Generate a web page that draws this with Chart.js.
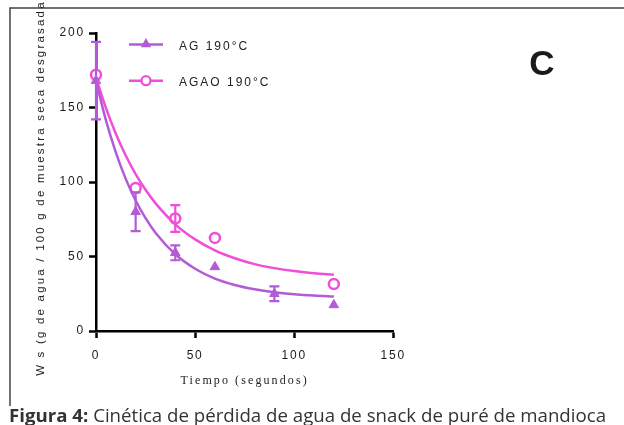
<!DOCTYPE html>
<html>
<head>
<meta charset="utf-8">
<script src="https://cdn.jsdelivr.net/npm/chart.js@4/dist/chart.umd.min.js"></script>
<style>
  html, body { margin: 0; padding: 0; background: #fff; }
</style>
</head>
<body>
<canvas id="graficoCinetica" width="624" height="425"></canvas>
<script>
// datos
const tiempoAG = [0, 20, 40, 60, 90, 120];
const wsAG = [168, 80, 52.5, 43, 25, 17.5];
const errAG = [26, 13, 5, 0, 5, 0];

const tiempoAGAO = [0, 20, 40, 60, 120];
const wsAGAO = [172, 96, 75.5, 62.5, 31.5];
const errAGAO = [0, 0, 9, 0, 0];

// curvas de ajuste
const tiempoAjuste = [0, 5, 10, 15, 20, 25, 30, 40, 50, 60, 70, 80, 90, 100, 110, 120];
const ajusteAG = [168, 141.5, 119.9, 102.1, 87.6, 75.7, 66, 51.5, 41.8, 35.2, 30.9, 28, 26, 24.7, 23.8, 23.2];
const ajusteAGAO = [170, 149.7, 132.4, 117.8, 105.3, 94.8, 85.8, 71.6, 61.5, 54.1, 48.8, 44.9, 42.2, 40.2, 38.7, 37.7];

const ticksX = [0, 50, 100, 150];
const ticksY = [0, 50, 100, 150, 200];

const nombres = ["AG 190°C", "AGAO 190°C"];
const morado = "#B35BD6";
const rosa = "#F04ED9";

const puntos = (xs, ys) => xs.map((x, i) => ({ x: x, y: ys[i] }));

function triangulo(ctx, x, y, r, color) {
  ctx.beginPath();
  ctx.moveTo(x, y - r);
  ctx.lineTo(x + r * 0.95, y + r * 0.7);
  ctx.lineTo(x - r * 0.95, y + r * 0.7);
  ctx.closePath();
  ctx.fillStyle = color;
  ctx.fill();
}

const extras = {
  id: 'extras',
  beforeUpdate(chart) { chart.ctx.letterSpacing = '1.8px'; },
  beforeDraw(chart) { chart.ctx.letterSpacing = '1.8px'; },
  afterDatasetsDraw(chart) {
    const ctx = chart.ctx;
    const y = chart.scales.y;
    const barras = [[2, errAG, morado], [3, errAGAO, rosa]];
    ctx.save();
    barras.forEach(([idx, errs, color]) => {
      const meta = chart.getDatasetMeta(idx);
      meta.data.forEach((p, i) => {
        if (!errs[i]) return;
        const v = chart.data.datasets[idx].data[i].y;
        const y1 = y.getPixelForValue(v + errs[i]);
        const y2 = y.getPixelForValue(v - errs[i]);
        ctx.strokeStyle = color;
        ctx.lineWidth = 2.2;
        ctx.beginPath();
        ctx.moveTo(p.x, y1); ctx.lineTo(p.x, y2);
        ctx.moveTo(p.x - 5, y1); ctx.lineTo(p.x + 5, y1);
        ctx.moveTo(p.x - 5, y2); ctx.lineTo(p.x + 5, y2);
        ctx.stroke();
      });
    });
    ctx.restore();
  },
  afterDraw(chart) {
    const ctx = chart.ctx;
    const area = chart.chartArea;
    ctx.save();

    // marco
    ctx.strokeStyle = '#444';
    ctx.lineWidth = 1.5;
    ctx.beginPath();
    ctx.moveTo(10, 406); ctx.lineTo(10, 8); ctx.lineTo(624, 8);
    ctx.stroke();

    // leyenda
    const filas = [[44.5, morado, 'tri'], [80.7, rosa, 'circ']];
    filas.forEach(([ly, color, tipo], i) => {
      ctx.strokeStyle = color;
      ctx.lineWidth = 2.5;
      ctx.beginPath();
      ctx.moveTo(129, ly); ctx.lineTo(163, ly);
      ctx.stroke();
      if (tipo === 'tri') {
        triangulo(ctx, 146, ly - 1, 5.5, color);
      } else {
        ctx.beginPath();
        ctx.arc(146, ly, 4.5, 0, Math.PI * 2);
        ctx.fillStyle = '#fff';
        ctx.fill();
        ctx.lineWidth = 2.3;
        ctx.stroke();
      }
      ctx.letterSpacing = '2px';
      ctx.fillStyle = '#222';
      ctx.font = '12px "Liberation Sans", Arial, sans-serif';
      ctx.textAlign = 'left';
      ctx.textBaseline = 'middle';
      ctx.fillText(nombres[i], 179, ly + 2);
    });

    // letra C
    ctx.letterSpacing = '0px';
    ctx.font = 'bold 35px "Liberation Sans", Arial, sans-serif';
    ctx.textAlign = 'center';
    ctx.textBaseline = 'middle';
    ctx.fillStyle = '#1a1a1a';
    ctx.fillText('C', 542, 65);

    // titulo eje y
    ctx.save();
    ctx.translate(41, 185);
    ctx.rotate(-Math.PI / 2);
    ctx.letterSpacing = '2.2px';
    ctx.font = '11.5px "Liberation Sans", Arial, sans-serif';
    ctx.fillStyle = '#222';
    ctx.textAlign = 'center';
    ctx.textBaseline = 'middle';
    ctx.fillText('W s (g de agua / 100 g de muestra seca desgrasada)', 0, 0);
    ctx.restore();

    // titulo eje x
    ctx.letterSpacing = '2.1px';
    ctx.font = '12px "Liberation Serif", "Times New Roman", serif';
    ctx.fillStyle = '#222';
    ctx.textAlign = 'center';
    ctx.textBaseline = 'middle';
    ctx.fillText('Tiempo (segundos)', (area.left + area.right) / 2, 381);

    // pie de figura (ajustado al ancho, letra estrecha)
    ctx.letterSpacing = '0px';
    const parte1 = 'Figura 4:';
    const parte2 = ' Cinética de pérdida de agua de snack de puré de mandioca';
    const fam = '"Open Sans", "Noto Sans", sans-serif';
    const tam = 17.5;
    ctx.font = 'bold ' + tam + 'px ' + fam;
    const w1 = ctx.measureText(parte1).width;
    ctx.font = tam + 'px ' + fam;
    const w2 = ctx.measureText(parte2).width;
    const sx = 597 / (w1 + w2);
    ctx.save();
    ctx.translate(9, 421.5);
    ctx.scale(sx, 1);
    ctx.textAlign = 'left';
    ctx.textBaseline = 'alphabetic';
    ctx.fillStyle = '#333';
    ctx.font = 'bold ' + tam + 'px ' + fam;
    ctx.fillText(parte1, 0, 0);
    ctx.font = tam + 'px ' + fam;
    ctx.fillText(parte2, w1, 0);
    ctx.restore();

    ctx.restore();
  }
};

const ctxGrafico = document.getElementById("graficoCinetica");
const grafico = new Chart(ctxGrafico, {
  type: 'scatter',
  data: {
    datasets: [
      {
        label: nombres[0] + ' ajuste',
        data: puntos(tiempoAjuste, ajusteAG),
        showLine: true,
        borderColor: morado,
        borderWidth: 2.5,
        pointRadius: 0,
        cubicInterpolationMode: 'monotone',
        clip: false,
      },
      {
        label: nombres[1] + ' ajuste',
        data: puntos(tiempoAjuste, ajusteAGAO),
        showLine: true,
        borderColor: rosa,
        borderWidth: 2.5,
        pointRadius: 0,
        cubicInterpolationMode: 'monotone',
        clip: false,
      },
      {
        label: nombres[0],
        data: puntos(tiempoAG, wsAG),
        pointStyle: 'triangle',
        pointRadius: 5.5,
        backgroundColor: morado,
        borderColor: morado,
        borderWidth: 1,
        clip: false,
      },
      {
        label: nombres[1],
        data: puntos(tiempoAGAO, wsAGAO),
        pointStyle: 'circle',
        pointRadius: 5,
        backgroundColor: '#fff',
        borderColor: rosa,
        borderWidth: 2.5,
        clip: false,
      },
    ],
  },
  options: {
    responsive: false,
    animation: false,
    devicePixelRatio: 1,
    layout: { padding: { top: 33, right: 230.7, bottom: 0, left: 0 } },
    plugins: {
      legend: { display: false },
      tooltip: { enabled: false },
    },
    scales: {
      x: {
        type: 'linear',
        min: 0,
        max: 150,
        afterFit: s => { s.height = 94; },
        afterBuildTicks: s => { s.ticks = ticksX.map(v => ({ value: v })); },
        border: { color: '#000', width: 2.5 },
        grid: { drawOnChartArea: false, drawTicks: true, tickLength: 7, tickWidth: 2.5, tickColor: '#000' },
        ticks: {
          color: '#1a1a1a',
          padding: 10,
          maxRotation: 0,
          font: { family: '"Liberation Sans", Arial, sans-serif', size: 12 },
        },
      },
      y: {
        min: 0,
        max: 200,
        afterFit: s => { s.width = 96; },
        afterBuildTicks: s => { s.ticks = ticksY.map(v => ({ value: v })); },
        border: { color: '#000', width: 2.5 },
        grid: { drawOnChartArea: false, drawTicks: true, tickLength: 7, tickWidth: 2.5, tickColor: '#000' },
        ticks: {
          color: '#1a1a1a',
          padding: 4,
          font: { family: '"Liberation Sans", Arial, sans-serif', size: 12 },
        },
      },
    },
  },
  plugins: [extras],
});
</script>
</body>
</html>
